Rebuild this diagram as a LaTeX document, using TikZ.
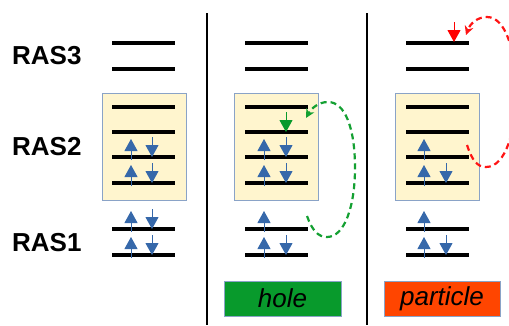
\documentclass[tikz,border=0pt]{standalone}
\usepackage{fontspec}
\setmainfont{Liberation Sans}
\usetikzlibrary{arrows.meta}
\definecolor{spinblue}{RGB}{54,104,170}
\definecolor{boxfill}{RGB}{255,245,206}
\definecolor{boxline}{RGB}{138,163,199}
\definecolor{holegreen}{RGB}{8,154,44}
\definecolor{dashgreen}{RGB}{20,160,50}
\definecolor{partorange}{RGB}{255,69,0}
\definecolor{dashred}{RGB}{255,20,20}
\tikzset{
  level/.style={line width=3.5pt},
  spin/.style={line width=1pt, -{Triangle[length=12pt,width=13pt]}},
  bluespin/.style={spin, spinblue},
  rasbox/.style={draw=boxline, line width=0.8pt, fill=boxfill, minimum width=84pt, minimum height=107pt, inner sep=0pt},
  raslabel/.style={anchor=west, inner sep=0pt, font=\fontsize{26}{30}\selectfont\bfseries},
  tagbox/.style={draw=boxline, line width=0.8pt, minimum height=35pt, inner sep=0pt, font=\fontsize{26}{30}\selectfont\itshape},
  divider/.style={line width=1.8pt},
  loop/.style={line width=2.2pt, dash pattern=on 6pt off 4pt, -{Stealth[length=9pt,width=9pt]}}
}
\newcommand\UpSp[2]{\draw[bluespin] (#1,#2+3) -- (#1,#2-18);}
\newcommand\DnSp[2]{\draw[bluespin] (#1,#2-20) -- (#1,#2);}
\newcommand\Levels[1]{%
  \foreach \yy in {43,69,107,132,157,183,229,255}
    \draw[level] (#1,\yy) -- (#1+63,\yy);}
\begin{document}
\begin{tikzpicture}[x=1pt,y=-1pt]
\useasboundingbox (0,0) rectangle (509,325);
% labels
\node[raslabel] (r3) at (12,56) {RAS3};
\node[raslabel] (r2) at (12,147) {RAS2};
\node[raslabel] (r1) at (12,243) {RAS1};
% dividers
\coordinate (d1t) at (207,13); \coordinate (d1b) at (207,325);
\coordinate (d2t) at (367,13); \coordinate (d2b) at (367,325);
\draw[divider] (d1t) -- (d1b);
\draw[divider] (d2t) -- (d2b);
% RAS2 boxes
\node[rasbox] (b1) at (144,146.5) {};
\node[rasbox] (b2) at (276.5,146.5) {};
\node[rasbox] (b3) at (437,146.5) {};
% levels
\Levels{112}
\Levels{245}
\Levels{406}
% column 1 spins
\UpSp{131}{157}\DnSp{152}{157}
\UpSp{131}{183}\DnSp{152}{183}
\UpSp{131}{229}\DnSp{152}{229}
\UpSp{131}{255}\DnSp{152}{255}
% column 2 spins
\draw[spin, holegreen] (286,112) -- (286,132);
\UpSp{264}{157}\DnSp{286}{157}
\UpSp{264}{183}\DnSp{286}{183}
\UpSp{264}{229}
\UpSp{264}{255}\DnSp{286}{255}
% column 3 spins
\draw[spin, red] (454,22) -- (454,42);
\UpSp{424}{157}
\UpSp{424}{183}\DnSp{446}{183}
\UpSp{424}{229}
\UpSp{424}{255}\DnSp{446}{255}
% hole loop
\coordinate (gs) at (307,216);
\coordinate (ge) at (306,118);
\draw[loop, dashgreen] (gs) .. controls (312,230) and (318,237) .. (327,237)
  .. controls (345,237) and (355,205) .. (355,168)
  .. controls (355,128) and (345,102) .. (328,102)
  .. controls (318,102) and (311,109) .. (ge);
% particle loop
\begin{scope}
\clip (0,0) rectangle (509,325);
\coordinate (rs) at (467,145);
\coordinate (re) at (466,35);
\draw[loop, dashred] (rs) .. controls (472,160) and (477,167) .. (486,167)
  .. controls (506,167) and (516,130) .. (516,92)
  .. controls (516,52) and (506,17) .. (487,17)
  .. controls (477,17) and (470,24) .. (re);
\end{scope}
% tags
\node[tagbox, fill=holegreen, minimum width=117pt] (hole) at (282.5,298.5) {hole};
\node[tagbox, fill=partorange, minimum width=116pt] (part) at (442,298.5) {particle};
\end{tikzpicture}
\end{document}
